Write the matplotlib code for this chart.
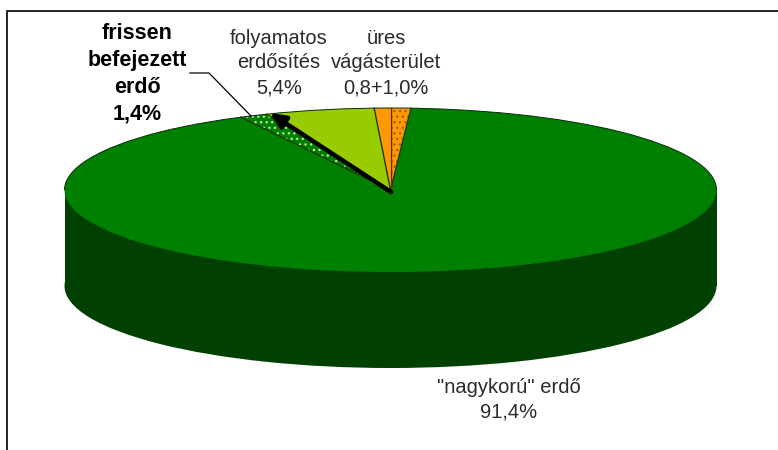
import math
import matplotlib
matplotlib.use("Agg")
import matplotlib.pyplot as plt
from matplotlib.patches import Rectangle, Arc

plt.rcParams['font.family'] = ['Liberation Sans', 'DejaVu Sans']
plt.rcParams['hatch.linewidth'] = 0.9

# counter-clockwise from the right edge of the dotted orange slice
categories = ['üres (pontozott)', 'üres', 'folyamatos erdősítés', 'frissen befejezett erdő', 'nagykorú erdő']
values = [1.0, 0.8, 5.4, 1.4, 91.4]
colors = ['#ff9900', '#ff9900', '#99cc00', '#008000', '#008000']
hatches = ['...', None, None, '...', None]
hatch_colors = ['#a85a00', None, None, '#b8f0a0', None]

W, H = 778, 450
cx, cy, rx, ry, depth = 390.5, 190, 326, 82, 96

fig = plt.figure(figsize=(W / 100, H / 100), dpi=100)
ax = fig.add_axes([0, 0, 1, 1])


def X(px):
    return (px - cx) / rx


def Y(py):
    return (cy - py) / ry


# side wall
ax.pie([1], colors=['#004000'], center=(0, -depth / ry), radius=1, startangle=90,
       wedgeprops=dict(linewidth=0))
ax.add_patch(Rectangle((-1, -depth / ry), 2, depth / ry, fc='#004000', ec='none'))

# top face
wedges, _ = ax.pie(values, colors=colors, startangle=90 - 3.6, counterclock=True,
                   wedgeprops=dict(linewidth=0))
for w, h, hc in zip(wedges, hatches, hatch_colors):
    if h:
        w.set_hatch(h)
        w.set_edgecolor(hc)
        w.set_linewidth(0)

# dark rim only along the back of the top face
ax.add_patch(Arc((0, 0), 2, 2, theta1=0, theta2=180, ec='#0a2a0a', lw=0.7))

ax.set_aspect('auto')
ax.set_xlim((0 - cx) / rx, (W - cx) / rx)
ax.set_ylim((cy - H) / ry, cy / ry)
ax.axis('off')

# thin dark slice borders, taken from the wedges themselves
for i, w in enumerate(wedges):
    a = math.radians(w.theta1)
    c = '#7a1f00' if i == 1 else '#1a3a00'
    ax.plot([0, math.cos(a)], [0, math.sin(a)], color=c, lw=1)

# arrow
ax.annotate('', xy=(X(270), Y(113)), xytext=(X(391), Y(192)),
            arrowprops=dict(arrowstyle='-|>,head_length=0.9,head_width=0.42', color='black', lw=3.2,
                            shrinkA=0, shrinkB=0))
# leader
ax.plot([X(190), X(209), X(251)], [Y(73), Y(73), Y(116)], color='black', lw=0.9)

# frame
ax.plot([X(W), X(7), X(7)], [Y(10.5), Y(10.5), Y(H)], color='#222222', lw=1.4, clip_on=False)

fs = 14.5
gray = '#2a2a2a'
ax.text(X(137), Y(74), 'frissen\nbefejezett\nerdő\n1,4%', ha='center', va='center', fontsize=15.5,
        fontweight='bold', color='black', linespacing=1.36)
ax.text(X(279), Y(63), 'folyamatos\nerdősítés\n5,4%', ha='center', va='center', fontsize=fs, color=gray,
        linespacing=1.4)
ax.text(X(386), Y(63), 'üres\nvágásterület\n0,8+1,0%', ha='center', va='center', fontsize=fs, color=gray,
        linespacing=1.4)
ax.text(X(509), Y(400), '"nagykorú" erdő\n91,4%', ha='center', va='center', fontsize=fs, color=gray,
        linespacing=1.4)

fig.savefig('out.png', dpi=100, facecolor='white')
